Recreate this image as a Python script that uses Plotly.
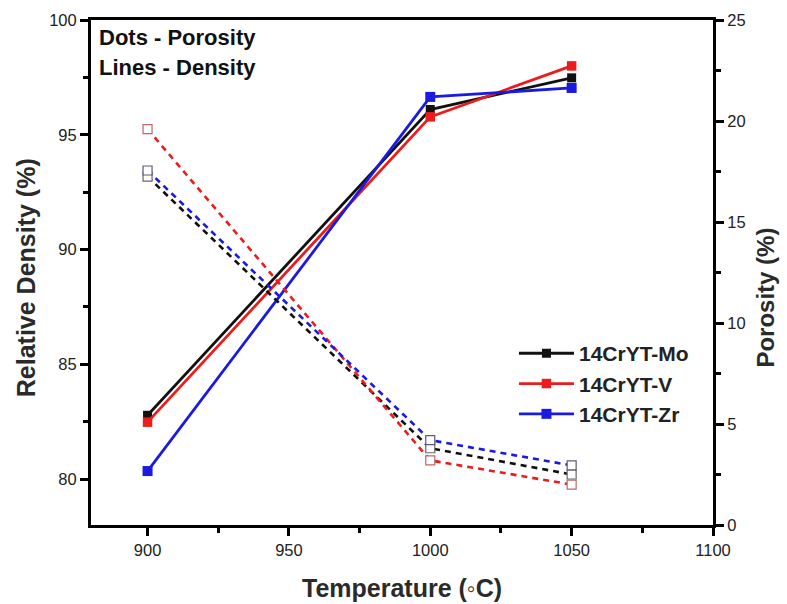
import plotly.graph_objects as go

# Sintering temperatures (°C)
temperature = [900, 1000, 1050]

# Relative density (%) for each alloy
density_mo = [82.78, 96.1, 97.48]
density_v = [82.48, 95.78, 98.0]
density_zr = [80.35, 96.65, 97.04]

# Porosity (%) for each alloy
porosity_mo = [17.25, 3.8, 2.5]
porosity_v = [19.6, 3.2, 2.0]
porosity_zr = [17.55, 4.2, 2.95]

series_names = ["14CrYT-Mo", "14CrYT-V", "14CrYT-Zr"]
line_colors = ["#111111", "#ec1c1c", "#1a1ae0"]
hollow_edges = ["#6a6a6a", "#b86a6a", "#5a5a80"]

FONT = "Liberation Sans, Arial, sans-serif"

fig = go.Figure()

# Porosity: dashed lines with hollow square markers (right axis)
for name, vals, col, edge in zip(series_names, [porosity_mo, porosity_v, porosity_zr],
                                 line_colors, hollow_edges):
    fig.add_trace(go.Scatter(
        x=temperature, y=vals, yaxis="y2", mode="lines+markers",
        line=dict(color=col, width=2.6, dash="6px,5px"),
        marker=dict(symbol="square", size=9, color="white",
                    line=dict(color=edge, width=1.2)),
        showlegend=False, name=name + " porosity",
    ))

# Relative density: solid lines with filled square markers (left axis)
marker_sizes = [9, 9.5, 10]
for name, vals, col, ms in zip(series_names, [density_mo, density_v, density_zr],
                               line_colors, marker_sizes):
    fig.add_trace(go.Scatter(
        x=temperature, y=vals, mode="lines+markers",
        line=dict(color=col, width=2.8),
        marker=dict(symbol="square", size=ms, color=col),
        name=name,
    ))

tick_font = dict(family=FONT, size=16.5, color="#222222")

fig.update_layout(
    width=787, height=604,
    margin=dict(l=91, r=74, t=20, b=79),
    paper_bgcolor="white", plot_bgcolor="white",
    font=dict(family=FONT),
    xaxis=dict(
        range=[880, 1100], tick0=900, dtick=50,
        showgrid=False, zeroline=False,
        showline=True, linecolor="black", linewidth=3, mirror=True,
        ticks="outside", ticklen=8, tickwidth=2.5, tickcolor="black",
        minor=dict(ticks="outside", ticklen=5, tickwidth=2.5,
                   tickcolor="black", dtick=25, tick0=900, showgrid=False),
        tickfont=tick_font,
    ),
    yaxis=dict(
        range=[78, 100], tick0=80, dtick=5,
        showgrid=False, zeroline=False,
        showline=True, linecolor="black", linewidth=3,
        ticks="outside", ticklen=8, tickwidth=2.5, tickcolor="black",
        minor=dict(ticks="outside", ticklen=5, tickwidth=2.5,
                   tickcolor="black", dtick=2.5, tick0=80, showgrid=False),
        tickfont=tick_font,
    ),
    yaxis2=dict(
        range=[0, 25], tick0=0, dtick=5, overlaying="y", side="right",
        showgrid=False, zeroline=False,
        showline=True, linecolor="black", linewidth=3,
        ticks="outside", ticklen=8, tickwidth=2.5, tickcolor="black",
        minor=dict(ticks="outside", ticklen=5, tickwidth=2.5,
                   tickcolor="black", dtick=2.5, tick0=0, showgrid=False),
        tickfont=tick_font,
    ),
    legend=dict(
        x=0.68, y=0.38, xanchor="left", yanchor="top",
        bgcolor="rgba(0,0,0,0)", borderwidth=0,
        font=dict(family=FONT, size=21, color="#222222", weight="bold"),
        itemwidth=55, tracegroupgap=0,
    ),
    annotations=[
        dict(text="Dots - Porosity", xref="paper", yref="paper",
             x=0.01, y=0.995, xanchor="left", yanchor="top", showarrow=False,
             font=dict(family=FONT, size=22, color="#111111", weight="bold")),
        dict(text="Lines - Density", xref="paper", yref="paper",
             x=0.01, y=0.935, xanchor="left", yanchor="top", showarrow=False,
             font=dict(family=FONT, size=22, color="#111111", weight="bold")),
        dict(text="Relative Density (%)", xref="paper", yref="paper",
             x=-0.105, y=0.49, xanchor="center", yanchor="middle",
             textangle=-90, showarrow=False,
             font=dict(family=FONT, size=25, color="#2a2a2a", weight="bold")),
        dict(text="Porosity (%)", xref="paper", yref="paper",
             x=1.085, y=0.45, xanchor="center", yanchor="middle",
             textangle=-90, showarrow=False,
             font=dict(family=FONT, size=24, color="#2a2a2a", weight="bold")),
        dict(text="<b>Temperature (</b>◦<b>C)</b>", xref="paper", yref="paper",
             x=0.5, y=-0.124, xanchor="center", yanchor="middle",
             showarrow=False,
             font=dict(family=FONT, size=25, color="#2a2a2a")),
    ],
)

fig.write_html("out.html")
